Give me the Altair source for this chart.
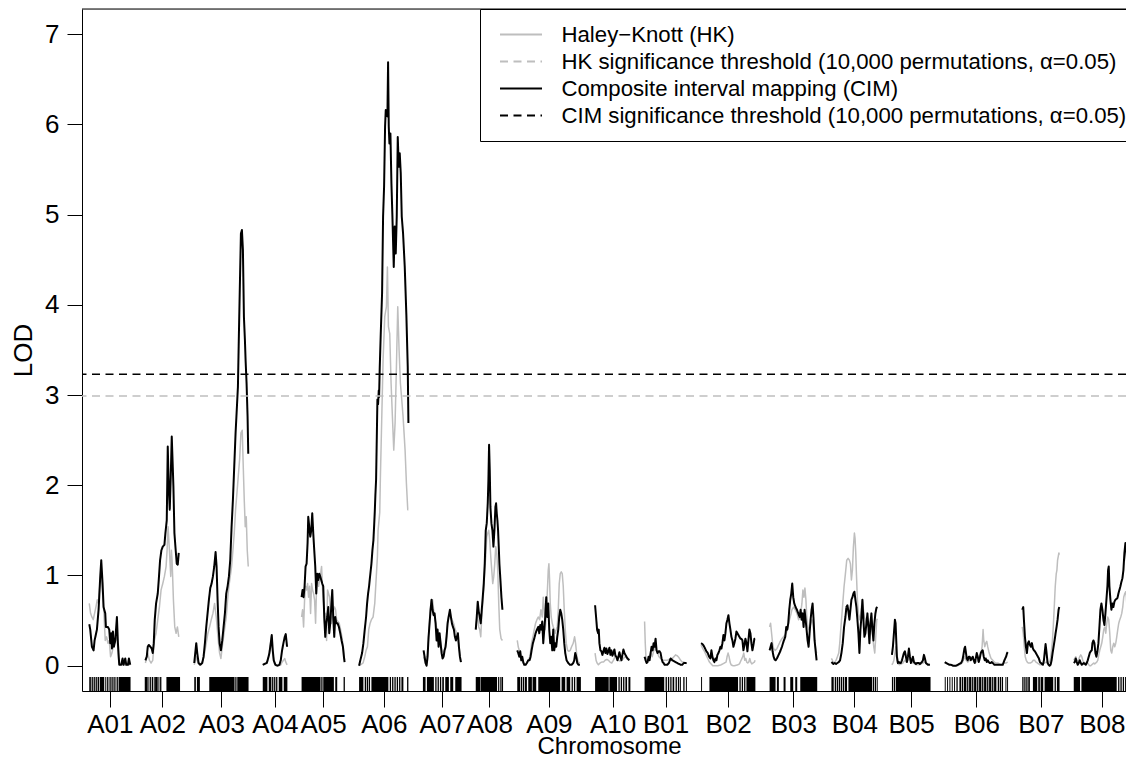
import altair as alt
import pandas as pd

# ---------------- data ----------------
CHROMOSOMES = ["A01", "A02", "A03", "A04", "A05", "A06", "A07", "A08", "A09", "A10",
               "B01", "B02", "B03", "B04", "B05", "B06", "B07", "B08"]
LENGTHS_CM = [123, 105, 162, 73, 129, 148, 115, 81, 190, 105,
              126, 162, 142, 138, 115, 189, 111, 168]
GAP_CM = 43.5

HK_THRESHOLD = 2.99
CIM_THRESHOLD = 3.23

# (position within chromosome, LOD)
CIM_A01 = [(0,0.46),(3,0.40),(8,0.21),(13,0.17),(16,0.28),(23,0.40),(28,0.62),(33,0.99),(36,1.17),(40,0.91),(43,0.65),(48,0.58),(50,0.43),(56,0.43),(60,0.40),(63,0.25),(66,0.36),(68,0.19),(71,0.38),(74,0.21),(78,0.28),(83,0.54),(86,0.25),(90,0.01),(96,0.01),(100,0.08),(103,0.01),(108,0.08),(111,0.01),(116,0.01),(119,0.08),(123,0.01)]
HK_A01 = [(0,0.69),(4,0.58),(8,0.54),(12,0.51),(16,0.58),(20,0.65),(24,0.73),(28,0.69),(32,0.91),(36,1.02),(40,0.80),(44,0.58),(48,0.28),(52,0.32),(56,0.25),(60,0.28),(64,0.10),(68,0.14),(72,0.21),(76,0.25),(80,0.32),(84,0.28),(88,0.06),(92,0.01),(101,0.01),(123,0.01)]
CIM_A02 = [(2,0.06),(6,0.10),(9,0.21),(12,0.23),(17,0.21),(21,0.19),(24,0.14),(27,0.25),(30,0.51),(34,0.69),(39,0.80),(42,0.95),(46,1.17),(50,1.28),(54,1.32),(59,1.34),(62,1.47),(66,1.61),(69,2.43),(72,1.98),(75,1.73),(78,2.10),(81,2.54),(84,2.21),(86,1.98),(89,1.47),(92,1.32),(96,1.13),(99,1.12),(102,1.25)]
HK_A02 = [(2,0.03),(9,0.14),(14,0.06),(19,0.03),(24,0.06),(29,0.28),(34,0.36),(39,0.51),(44,0.65),(49,0.84),(54,0.91),(59,0.99),(64,1.10),(67,1.28),(70,1.54),(74,1.28),(78,0.99),(80,1.28),(82,1.17),(86,0.73),(90,0.43),(94,0.36),(98,0.43),(102,0.32)]
CIM_A03 = [(0,0.03),(3,0.14),(6,0.25),(9,0.14),(13,0.03),(18,0.01),(24,0.03),(28,0.10),(32,0.25),(36,0.43),(40,0.58),(44,0.73),(48,0.86),(52,0.91),(56,0.99),(60,1.10),(64,1.26),(67,1.10),(70,0.73),(73,0.43),(76,0.25),(80,0.17),(84,0.28),(88,0.43),(92,0.58),(96,0.80),(100,0.88),(104,0.99),(108,1.17),(112,1.54),(116,1.84),(120,2.21),(124,2.58),(128,2.87),(131,3.09),(134,3.68),(137,4.24),(140,4.79),(143,4.83),(146,4.61),(149,3.87),(152,3.61),(154,3.39),(157,3.13),(160,2.76),(162,2.35)]
HK_A03 = [(0,0.01),(6,0.10),(11,0.03),(16,0.01),(21,0.03),(26,0.06),(31,0.14),(36,0.25),(41,0.36),(46,0.43),(51,0.51),(56,0.58),(61,0.69),(66,0.54),(71,0.32),(76,0.14),(80,0.08),(84,0.21),(88,0.32),(92,0.43),(96,0.54),(100,0.73),(104,0.88),(108,0.99),(112,1.10),(116,1.28),(120,1.47),(124,1.73),(128,1.91),(132,2.10),(136,2.28),(140,2.58),(144,2.61),(147,2.21),(150,1.84),(153,1.54),(156,1.65),(159,1.28),(162,1.10)]
CIM_A04 = [(0,0.01),(6,0.02),(12,0.03),(16,0.08),(20,0.14),(24,0.25),(27,0.34),(30,0.17),(33,0.06),(38,0.01),(44,0.0),(50,0.01),(54,0.06),(58,0.17),(62,0.25),(66,0.32),(69,0.35),(73,0.21)]
HK_A04 = [(0,0.01),(8,0.03),(14,0.04),(18,0.10),(22,0.21),(26,0.32),(30,0.14),(34,0.03),(40,0.0),(48,0.0),(54,0.01),(58,0.04),(62,0.06),(66,0.08),(69,0.04),(73,0.01)]
CIM_A05 = [(0,0.76),(3,0.84),(6,0.76),(9,0.88),(12,1.10),(15,1.13),(18,1.36),(20,1.65),(23,1.54),(26,1.43),(29,1.50),(32,1.69),(35,1.47),(38,1.28),(41,1.10),(44,0.80),(47,1.02),(50,0.95),(53,1.02),(56,0.99),(59,0.95),(62,0.91),(65,0.88),(68,0.54),(71,0.32),(74,0.47),(77,0.54),(80,0.65),(83,0.36),(86,0.47),(89,0.65),(92,0.84),(95,0.54),(98,0.32),(101,0.54),(104,0.47),(108,0.47),(112,0.43),(116,0.36),(120,0.28),(124,0.21),(127,0.10),(129,0.04)]
HK_A05 = [(0,0.54),(3,0.62),(6,0.43),(9,0.73),(12,0.88),(15,0.84),(18,0.91),(21,0.76),(24,0.88),(27,0.58),(30,0.91),(33,0.84),(36,0.80),(39,0.73),(42,0.47),(45,0.88),(48,0.99),(51,0.88),(54,0.95),(57,1.02),(60,1.10),(63,0.84),(66,0.69),(69,0.47),(72,0.58),(75,0.28),(78,0.84),(81,0.80),(84,0.76),(87,0.58),(90,0.47),(93,0.54),(96,0.62),(99,0.65),(102,0.62),(105,0.51),(109,0.49),(113,0.47),(117,0.40),(121,0.32),(125,0.21),(129,0.06)]
CIM_A06 = [(0,0.00),(5,0.08),(9,0.14),(13,0.25),(17,0.40),(21,0.54),(24,0.69),(27,0.80),(30,0.88),(33,0.99),(37,1.13),(40,1.28),(43,1.39),(45,1.54),(47,1.70),(49,1.90),(51,2.06),(53,2.50),(55,2.95),(57,2.90),(59,3.05),(60,2.98),(62,3.31),(65,3.68),(69,4.13),(72,4.98),(75,5.31),(78,5.98),(80,6.16),(82,6.10),(85,6.09),(87,6.69),(89,5.98),(91,5.79),(94,5.90),(97,5.35),(100,4.98),(104,4.42),(107,4.87),(110,4.57),(113,4.98),(116,5.86),(119,5.53),(122,5.68),(125,5.46),(128,4.98),(132,4.79),(137,4.42),(142,3.87),(146,3.31),(148,2.69)]
HK_A06 = [(0,0.00),(12,0.03),(17,0.10),(21,0.17),(25,0.21),(29,0.40),(33,0.47),(37,0.51),(42,0.54),(47,0.69),(51,0.95),(55,1.21),(57,1.50),(59,1.58),(62,1.70),(64,2.10),(67,2.58),(72,3.39),(77,3.87),(82,3.98),(85,4.42),(88,3.76),(92,3.68),(96,3.13),(100,2.76),(104,2.39),(108,2.69),(112,3.31),(116,3.98),(120,3.50),(124,3.13),(128,2.95),(132,2.76),(138,2.39),(142,2.02),(146,1.73),(148,1.73)]
CIM_A07 = [(2,0.17),(5,0.10),(8,0.03),(11,0.00),(14,0.10),(17,0.32),(20,0.47),(23,0.62),(26,0.73),(29,0.62),(32,0.56),(35,0.58),(38,0.47),(41,0.28),(44,0.40),(47,0.21),(50,0.36),(53,0.25),(56,0.14),(59,0.08),(62,0.10),(65,0.17),(68,0.21),(71,0.32),(74,0.47),(77,0.54),(81,0.62),(84,0.54),(87,0.47),(90,0.43),(93,0.40),(96,0.32),(99,0.28),(102,0.32),(105,0.36),(108,0.21),(111,0.10),(114,0.04)]
HK_A07 = [(2,0.10),(7,0.03),(12,0.06),(17,0.32),(22,0.62),(25,0.73),(29,0.73),(32,0.62),(37,0.51),(42,0.40),(47,0.32),(52,0.28),(57,0.17),(62,0.14),(67,0.21),(72,0.40),(77,0.54),(82,0.58),(87,0.51),(92,0.47),(97,0.40),(102,0.36),(107,0.25),(112,0.10),(115,0.04)]
CIM_A08 = [(0,0.40),(3,0.54),(6,0.71),(9,0.60),(12,0.54),(15,0.47),(18,0.62),(21,0.76),(24,0.91),(27,1.13),(30,1.50),(33,1.58),(36,1.80),(38,2.06),(40,2.45),(42,2.17),(44,1.76),(47,1.58),(50,1.50),(53,1.32),(56,1.50),(59,1.76),(61,1.80),(63,1.69),(65,1.61),(67,1.50),(69,1.32),(71,1.13),(74,0.95),(77,0.76),(80,0.62)]
HK_A08 = [(0,0.43),(3,0.51),(6,0.54),(9,0.43),(12,0.40),(15,0.32),(18,0.54),(21,0.69),(24,0.84),(27,1.06),(30,1.21),(33,1.43),(36,1.47),(39,1.50),(42,1.39),(45,1.21),(48,1.06),(51,0.91),(54,0.99),(57,1.13),(60,1.32),(63,1.25),(66,1.06),(69,0.69),(72,0.40),(76,0.30),(80,0.28)]
CIM_A09 = [(0,0.17),(3,0.14),(6,0.10),(9,0.16),(12,0.06),(15,0.10),(18,0.04),(21,0.01),(25,0.01),(29,0.03),(33,0.06),(37,0.06),(40,0.10),(43,0.17),(47,0.25),(51,0.30),(55,0.36),(59,0.40),(63,0.43),(66,0.36),(69,0.45),(72,0.40),(75,0.49),(78,0.25),(81,0.40),(84,0.54),(87,0.76),(90,0.54),(93,0.69),(96,0.40),(99,0.25),(102,0.32),(105,0.17),(108,0.40),(111,0.17),(114,0.25),(117,0.21),(120,0.32),(123,0.40),(126,0.54),(129,0.62),(132,0.58),(135,0.51),(138,0.40),(141,0.25),(144,0.14),(148,0.06),(153,0.03),(158,0.01),(163,0.01),(168,0.03),(171,0.06),(174,0.14),(177,0.10),(180,0.03),(184,0.01),(188,0.01)]
HK_A09 = [(0,0.28),(3,0.21),(6,0.17),(9,0.14),(13,0.06),(18,0.03),(23,0.01),(28,0.03),(33,0.06),(38,0.10),(43,0.25),(47,0.32),(51,0.40),(55,0.47),(59,0.51),(63,0.54),(67,0.51),(71,0.62),(75,0.54),(78,0.76),(81,0.62),(84,0.40),(87,0.58),(91,0.88),(93,1.06),(95,1.13),(97,0.95),(99,0.69),(102,0.54),(105,0.47),(108,0.43),(111,0.40),(114,0.36),(117,0.40),(120,0.43),(123,0.62),(126,0.91),(129,1.02),(132,1.04),(135,1.02),(138,0.88),(141,0.62),(144,0.40),(147,0.25),(151,0.17),(155,0.16),(159,0.17),(163,0.21),(168,0.25),(172,0.32),(175,0.25),(179,0.10),(183,0.04),(188,0.03)]
CIM_A10 = [(0,0.67),(3,0.54),(6,0.40),(9,0.36),(11,0.40),(13,0.25),(16,0.17),(19,0.16),(22,0.12),(25,0.16),(28,0.20),(31,0.14),(34,0.19),(37,0.13),(40,0.16),(43,0.20),(46,0.12),(49,0.17),(52,0.11),(55,0.14),(58,0.18),(61,0.11),(64,0.10),(67,0.06),(70,0.10),(73,0.15),(76,0.10),(79,0.06),(82,0.12),(85,0.18),(88,0.14),(91,0.12),(94,0.10),(97,0.08),(100,0.07),(103,0.06)]
HK_A10 = [(0,0.14),(3,0.06),(6,0.03),(10,0.01),(15,0.03),(20,0.04),(25,0.04),(30,0.06),(35,0.07),(40,0.06),(45,0.04),(50,0.03),(55,0.06),(60,0.10),(65,0.08),(70,0.06),(75,0.05),(80,0.06),(85,0.08),(90,0.10),(95,0.09),(100,0.08),(103,0.07)]
CIM_B01 = [(0,0.10),(3,0.06),(6,0.03),(9,0.04),(12,0.10),(15,0.06),(18,0.14),(21,0.21),(24,0.17),(27,0.25),(30,0.21),(33,0.30),(36,0.17),(39,0.14),(42,0.16),(45,0.16),(48,0.14),(51,0.08),(54,0.04),(57,0.03),(60,0.01),(63,0.01),(68,0.01),(73,0.03),(78,0.08),(83,0.06),(88,0.05),(93,0.04),(98,0.03),(103,0.02),(108,0.01),(113,0.01),(118,0.03),(123,0.03),(126,0.03)]
HK_B01 = [(0,0.49),(2,0.25),(4,0.10),(7,0.06),(11,0.06),(15,0.10),(19,0.14),(23,0.10),(27,0.16),(31,0.21),(35,0.17),(39,0.14),(43,0.10),(48,0.08),(53,0.06),(58,0.06),(63,0.06),(68,0.06),(73,0.07),(78,0.07),(83,0.08),(88,0.10),(93,0.12),(98,0.11),(103,0.09),(108,0.06),(113,0.04),(118,0.04),(123,0.03),(126,0.02)]
CIM_B02 = [(0,0.25),(4,0.24),(8,0.22),(12,0.19),(16,0.16),(20,0.14),(24,0.10),(28,0.08),(31,0.17),(34,0.10),(37,0.06),(40,0.04),(43,0.08),(46,0.06),(49,0.12),(52,0.14),(55,0.17),(58,0.21),(61,0.19),(64,0.25),(67,0.34),(70,0.28),(73,0.36),(76,0.47),(79,0.51),(82,0.56),(85,0.47),(88,0.40),(91,0.32),(94,0.28),(97,0.21),(100,0.25),(103,0.30),(106,0.38),(109,0.36),(112,0.34),(115,0.32),(118,0.30),(121,0.30),(124,0.28),(127,0.17),(130,0.23),(133,0.30),(136,0.25),(139,0.16),(142,0.28),(145,0.40),(148,0.36),(151,0.25),(154,0.17),(157,0.23),(160,0.30),(162,0.30)]
HK_B02 = [(0,0.23),(5,0.19),(10,0.16),(15,0.12),(20,0.08),(25,0.04),(30,0.02),(35,0.00),(40,0.00),(50,0.00),(60,0.01),(65,0.02),(70,0.03),(75,0.04),(78,0.10),(81,0.14),(84,0.10),(87,0.04),(90,0.01),(95,0.00),(100,0.00),(110,0.01),(115,0.02),(120,0.06),(125,0.10),(128,0.14),(131,0.06),(134,0.08),(137,0.04),(140,0.03),(143,0.04),(146,0.08),(149,0.04),(152,0.02),(156,0.03),(160,0.04),(162,0.06)]
CIM_B03 = [(0,0.17),(3,0.21),(6,0.25),(9,0.16),(12,0.10),(15,0.07),(18,0.06),(22,0.08),(27,0.12),(32,0.16),(37,0.21),(42,0.27),(47,0.32),(50,0.43),(53,0.40),(56,0.47),(59,0.62),(62,0.73),(65,0.80),(68,0.91),(71,0.76),(74,0.69),(78,0.65),(82,0.62),(86,0.58),(90,0.54),(93,0.62),(96,0.51),(99,0.58),(102,0.43),(105,0.62),(108,0.51),(111,0.40),(114,0.28),(117,0.21),(120,0.36),(123,0.51),(126,0.62),(129,0.69),(132,0.51),(135,0.28),(138,0.17),(141,0.06)]
HK_B03 = [(0,0.43),(3,0.47),(6,0.36),(9,0.25),(12,0.19),(17,0.17),(22,0.19),(27,0.23),(32,0.27),(37,0.30),(42,0.32),(47,0.34),(52,0.38),(57,0.47),(62,0.54),(67,0.62),(72,0.65),(77,0.62),(82,0.58),(87,0.51),(92,0.54),(97,0.69),(100,0.84),(103,0.76),(106,0.86),(109,0.73),(112,0.51),(115,0.43),(118,0.40),(121,0.43),(124,0.47),(127,0.51),(130,0.47),(133,0.36),(136,0.25),(139,0.17),(141,0.14)]
CIM_B04 = [(0,0.04),(3,0.03),(6,0.02),(10,0.03),(14,0.02),(18,0.03),(22,0.04),(26,0.06),(30,0.14),(34,0.25),(38,0.43),(42,0.54),(45,0.65),(48,0.67),(51,0.60),(54,0.51),(57,0.62),(60,0.73),(63,0.76),(66,0.80),(69,0.82),(72,0.73),(75,0.65),(78,0.51),(81,0.36),(84,0.14),(87,0.40),(90,0.54),(93,0.73),(96,0.51),(99,0.32),(102,0.36),(105,0.47),(108,0.58),(111,0.43),(114,0.25),(117,0.47),(120,0.58),(123,0.40),(126,0.28),(129,0.47),(132,0.58),(135,0.64),(138,0.65)]
HK_B04 = [(0,0.08),(3,0.06),(6,0.03),(10,0.04),(14,0.06),(18,0.10),(22,0.14),(25,0.25),(28,0.40),(31,0.54),(34,0.69),(38,0.88),(42,1.02),(46,1.17),(50,1.19),(54,1.17),(57,1.13),(60,0.95),(63,1.06),(66,1.32),(69,1.47),(71,1.41),(73,1.25),(75,1.02),(78,0.73),(81,0.58),(84,0.51),(87,0.54),(90,0.65),(93,0.73),(96,0.62),(99,0.54),(102,0.51),(106,0.43),(110,0.47),(114,0.40),(118,0.51),(121,0.43),(124,0.32),(127,0.21),(130,0.14),(133,0.32),(136,0.51),(138,0.52)]
CIM_B05 = [(0,0.12),(3,0.21),(6,0.36),(9,0.51),(11,0.47),(13,0.28),(15,0.10),(18,0.03),(21,0.04),(24,0.03),(27,0.03),(30,0.06),(33,0.10),(36,0.14),(39,0.16),(42,0.10),(45,0.04),(48,0.10),(51,0.19),(54,0.10),(57,0.03),(60,0.06),(63,0.10),(66,0.04),(69,0.03),(72,0.02),(75,0.03),(78,0.03),(81,0.03),(84,0.02),(87,0.03),(90,0.04),(93,0.06),(96,0.12),(99,0.08),(102,0.03),(105,0.02),(108,0.01),(111,0.01),(114,0.01)]
HK_B05 = [(0,0.01),(3,0.03),(6,0.06),(9,0.14),(12,0.21),(15,0.06),(18,0.02),(23,0.01),(33,0.03),(38,0.06),(43,0.04),(48,0.06),(53,0.08),(58,0.04),(63,0.03),(68,0.02),(73,0.01),(83,0.01),(93,0.03),(98,0.04),(103,0.03),(108,0.02),(114,0.01)]
CIM_B06 = [(0,0.04),(4,0.03),(9,0.02),(14,0.01),(19,0.01),(24,0.00),(29,0.00),(34,0.00),(39,0.01),(44,0.02),(49,0.03),(53,0.06),(56,0.12),(59,0.19),(61,0.21),(63,0.16),(66,0.08),(69,0.06),(72,0.10),(75,0.10),(78,0.06),(81,0.08),(84,0.10),(87,0.06),(90,0.03),(93,0.08),(96,0.14),(99,0.10),(102,0.04),(105,0.08),(108,0.14),(111,0.16),(114,0.17),(117,0.10),(120,0.06),(123,0.08),(126,0.04),(129,0.06),(132,0.04),(135,0.03),(138,0.03),(141,0.04),(144,0.03),(149,0.01),(154,0.01),(159,0.01),(164,0.01),(169,0.01),(174,0.01),(179,0.06),(184,0.10),(187,0.14),(189,0.15)]
HK_B06 = [(0,0.03),(9,0.02),(19,0.01),(29,0.00),(39,0.00),(49,0.02),(54,0.04),(59,0.10),(64,0.06),(69,0.04),(74,0.06),(79,0.07),(84,0.08),(89,0.06),(94,0.04),(99,0.06),(104,0.10),(109,0.14),(112,0.21),(115,0.40),(117,0.28),(120,0.21),(123,0.25),(126,0.27),(129,0.21),(132,0.16),(135,0.12),(139,0.08),(144,0.06),(149,0.04),(154,0.03),(159,0.03),(164,0.02),(169,0.01),(174,0.02),(179,0.03),(184,0.03),(189,0.04)]
CIM_B07 = [(0,0.62),(3,0.65),(5,0.51),(8,0.32),(11,0.21),(14,0.14),(17,0.25),(20,0.27),(23,0.23),(26,0.21),(29,0.25),(32,0.19),(35,0.17),(38,0.16),(41,0.14),(44,0.12),(47,0.10),(50,0.08),(53,0.04),(56,0.03),(59,0.02),(62,0.01),(65,0.06),(68,0.17),(70,0.24),(73,0.14),(76,0.03),(79,0.01),(82,0.00),(85,0.01),(88,0.06),(91,0.14),(94,0.21),(97,0.28),(100,0.36),(103,0.43),(106,0.51),(109,0.62),(111,0.65)]
HK_B07 = [(0,0.43),(3,0.36),(6,0.21),(9,0.10),(12,0.06),(15,0.04),(18,0.03),(21,0.03),(25,0.03),(29,0.04),(33,0.06),(37,0.06),(41,0.04),(45,0.03),(49,0.02),(53,0.01),(57,0.01),(62,0.02),(67,0.03),(72,0.04),(77,0.03),(81,0.04),(84,0.06),(87,0.14),(90,0.25),(93,0.43),(96,0.65),(99,0.88),(102,1.02),(104,1.06),(106,1.17),(108,1.21),(110,1.25),(111,1.23)]
CIM_B08 = [(0,0.03),(3,0.04),(6,0.08),(9,0.04),(12,0.01),(15,0.03),(18,0.06),(21,0.03),(24,0.01),(27,0.02),(30,0.03),(33,0.02),(36,0.01),(39,0.03),(42,0.06),(45,0.10),(48,0.14),(51,0.16),(54,0.17),(56,0.25),(59,0.28),(62,0.25),(65,0.14),(68,0.10),(71,0.16),(74,0.25),(77,0.43),(80,0.62),(83,0.69),(86,0.62),(89,0.51),(92,0.45),(95,0.58),(98,0.73),(101,0.88),(103,1.06),(105,1.10),(107,0.88),(110,0.73),(113,0.62),(116,0.69),(119,0.65),(122,0.71),(125,0.73),(128,0.74),(131,0.75),(134,0.80),(137,0.84),(140,0.88),(143,0.93),(146,0.97),(149,1.06),(152,1.25),(155,1.36),(158,1.29),(161,1.06),(164,0.80),(166,0.69)]
HK_B08 = [(0,0.06),(3,0.08),(6,0.10),(9,0.06),(12,0.04),(15,0.07),(18,0.10),(21,0.12),(24,0.10),(27,0.06),(30,0.04),(33,0.03),(36,0.03),(39,0.03),(42,0.03),(45,0.01),(48,0.00),(51,0.00),(54,0.01),(57,0.02),(60,0.03),(63,0.02),(66,0.03),(69,0.04),(72,0.06),(75,0.12),(78,0.17),(81,0.21),(84,0.25),(87,0.32),(90,0.40),(93,0.43),(96,0.36),(99,0.47),(102,0.54),(105,0.51),(108,0.36),(111,0.17),(114,0.14),(117,0.21),(120,0.25),(123,0.21),(126,0.25),(129,0.32),(132,0.40),(135,0.47),(138,0.51),(141,0.54),(144,0.58),(147,0.65),(150,0.76),(153,0.80),(156,0.82),(158,0.76),(160,0.62),(162,0.43),(164,0.21),(166,0.12)]

# marker (genotyped locus) blocks along each chromosome: (from, to)
RUG_A01 = [(0,4),(7,10),(13,16),(19,22),(25,29),(32,44),(48,50),(53,55),(58,60),(63,66),(69,72),(75,78),(82,85),(88,123)]
RUG_A02 = [(0,8),(11,13),(16,18),(21,24),(27,29),(31,38),(41,43),(46,49),(65,105)]
RUG_A03 = [(0,4),(8,16),(45,120),(123,126),(129,162)]
RUG_A04 = [(0,13),(18,25),(28,31),(34,37),(40,43),(48,58),(63,73)]
RUG_A05 = [(0,56),(59,62),(65,96),(101,106),(126,129)]
RUG_A06 = [(0,12),(17,20),(23,26),(29,32),(37,87),(92,95),(99,102),(106,109),(113,116),(120,123),(127,132),(144,147)]
RUG_A07 = [(0,7),(12,32),(37,40),(44,47),(51,54),(58,62),(67,77),(82,90),(97,115)]
RUG_A08 = [(0,13),(15,63),(67,69),(72,74),(77,81)]
RUG_A09 = [(0,8),(11,14),(17,20),(23,28),(33,43),(46,56),(63,128),(133,143),(148,158),(163,166),(170,173),(178,190)]
RUG_A10 = [(0,40),(43,65),(70,73),(77,80),(84,87),(91,95),(100,105)]
RUG_B01 = [(0,58),(63,66),(70,73),(77,80),(84,88),(93,96),(100,103),(106,108),(116,119),(124,126)]
RUG_B02 = [(0,2),(25,110),(115,118),(122,125),(129,132),(136,162)]
RUG_B03 = [(0,17),(22,27),(42,47),(62,70),(77,82),(92,142)]
RUG_B04 = [(0,6),(10,13),(16,19),(22,25),(28,31),(34,37),(40,46),(51,121),(124,127),(130,133),(136,138)]
RUG_B05 = [(0,3),(6,9),(12,115)]
RUG_B06 = [(0,2),(7,9),(14,16),(21,23),(28,30),(35,38),(44,48),(51,54),(57,64),(67,70),(73,79),(82,85),(88,94),(97,100),(103,109),(112,115),(118,124),(127,130),(133,139),(142,145),(148,154),(159,162),(165,168),(171,174),(182,184),(187,189)]
RUG_B07 = [(0,3),(6,9),(12,15),(18,22),(32,44),(48,52),(55,62),(67,92),(97,100),(104,111)]
RUG_B08 = [(0,18),(23,128),(133,136),(140,143),(147,150),(154,157),(161,164),(166,168)]

LBL_HK = "Haley\u2212Knott (HK)"
LBL_HK_T = "HK significance threshold (10,000 permutations, \u03b1=0.05)"
LBL_CIM = "Composite interval mapping (CIM)"
LBL_CIM_T = "CIM significance threshold (10,000 permutations, \u03b1=0.05)"

# ---------------- assemble tables ----------------
G = globals()
starts = []
s = 0.0
for L in LENGTHS_CM:
    starts.append(s)
    s += L + GAP_CM
ends = [st + L for st, L in zip(starts, LENGTHS_CM)]
centers = [round(st + L / 2, 2) for st, L in zip(starts, LENGTHS_CM)]

rows = []
for chrom, st in zip(CHROMOSOMES, starts):
    for prefix, label in (("HK_", LBL_HK), ("CIM_", LBL_CIM)):
        for p, v in G[prefix + chrom]:
            rows.append({"chr": chrom, "pos": st + p, "lod": v, "series": label})
curves = pd.DataFrame(rows)
hk_df = curves[curves.series == LBL_HK]
cim_df = curves[curves.series == LBL_CIM]

rug_rows = []
for chrom, st in zip(CHROMOSOMES, starts):
    for a, b in G["RUG_" + chrom]:
        rug_rows.append({"x0": st + a, "x1": st + b + 0.9})
rug_df = pd.DataFrame(rug_rows)

thr_df = pd.DataFrame({"lod": [HK_THRESHOLD, CIM_THRESHOLD], "series": [LBL_HK_T, LBL_CIM_T]})

# ---------------- scales / axes ----------------
FONT = "Liberation Sans"
PLOT_W, PLOT_H = 1044, 682
Y_MIN, Y_MAX = -0.2805, 7.28
RUG_TOP = -0.125
X_LO = -GAP_CM / 2
X_HI = X_LO + PLOT_W * 3

label_expr = ""
for name, e in zip(CHROMOSOMES, ends):
    label_expr += f"datum.value < {e + GAP_CM / 2} ? '{name}' : "
label_expr += "''"

XSCALE = alt.Scale(domain=[X_LO, X_HI], nice=False, zero=False)
XAXIS = alt.Axis(values=centers, labelExpr=label_expr, grid=False, tickSize=16,
                 labelPadding=4, labelFontSize=26, labelFont=FONT, labelColor="black",
                 labelOverlap=False, labelFlush=False, domainColor="black", tickColor="black",
                 title="Chromosome", titleFontSize=24, titleFont=FONT, titleFontWeight="normal",
                 titleColor="black", titleBaseline="alphabetic", titleY=62, titleX=527)
YSCALE = alt.Scale(domain=[Y_MIN, Y_MAX], nice=False, zero=False)
YAXIS = alt.Axis(values=list(range(0, 8)), format="d", grid=False, tickSize=15, labelPadding=8,
                 labelFontSize=26, labelFont=FONT, labelColor="black", labelFlush=False,
                 domainColor="black", tickColor="black", title="LOD", titleFontSize=26,
                 titleFont=FONT, titleFontWeight="normal", titleColor="black", titlePadding=8)

DOMAIN = [LBL_HK, LBL_HK_T, LBL_CIM, LBL_CIM_T]
PAD = 14
LEGEND = alt.Legend(title=None, orient="none", legendX=398, legendY=0, padding=PAD,
                    strokeColor="black", fillColor="white", cornerRadius=0,
                    symbolType="M-2,0L2,0", symbolSize=441, symbolStrokeWidth=2,
                    symbolOffset=29.5 - PAD, labelOffset=29, labelFontSize=22.2,
                    labelFont=FONT, labelColor="black", labelLimit=1000, rowPadding=4)
COLOR = alt.Color("series:N", scale=alt.Scale(domain=DOMAIN,
                  range=["#bebebe", "#bebebe", "black", "black"]), legend=LEGEND)
DASH = alt.StrokeDash("series:N", scale=alt.Scale(domain=DOMAIN,
                      range=[[1, 0], [8, 5.5], [1, 0], [8, 5.5]]), legend=LEGEND)


def X(field):
    return alt.X(field, type="quantitative", scale=XSCALE, axis=XAXIS)


def Y(field):
    return alt.Y(field, type="quantitative", scale=YSCALE, axis=YAXIS)


rug = alt.Chart(rug_df).mark_rect(color="black", clip=True).encode(
    x=X("x0"), x2="x1", y=alt.datum(RUG_TOP), y2=alt.datum(Y_MIN))

hk = alt.Chart(hk_df).mark_line(strokeWidth=1.5, strokeJoin="round", clip=True).encode(
    x=X("pos"), y=Y("lod"), color=COLOR, strokeDash=DASH, detail="chr:N")

cim = alt.Chart(cim_df).mark_line(strokeWidth=2, strokeJoin="round", clip=True).encode(
    x=X("pos"), y=Y("lod"), color=COLOR, strokeDash=DASH, detail="chr:N")

thr = alt.Chart(thr_df).mark_rule(strokeWidth=1.5).encode(
    y=Y("lod"), color=COLOR, strokeDash=DASH)

frame_top = alt.Chart(pd.DataFrame({"lod": [Y_MAX]})).mark_rule(
    color="black", strokeWidth=1).encode(y=Y("lod"))

chart = alt.layer(rug, hk, cim, thr, frame_top).properties(
    width=PLOT_W, height=PLOT_H,
    autosize=alt.AutoSizeParams(type="none"),
    padding={"left": 74, "top": 1, "right": 0, "bottom": 67},
    background="white",
).configure_view(stroke=None).configure(font=FONT)

chart.save("out.html", embed_options={"renderer": "svg", "actions": False})
